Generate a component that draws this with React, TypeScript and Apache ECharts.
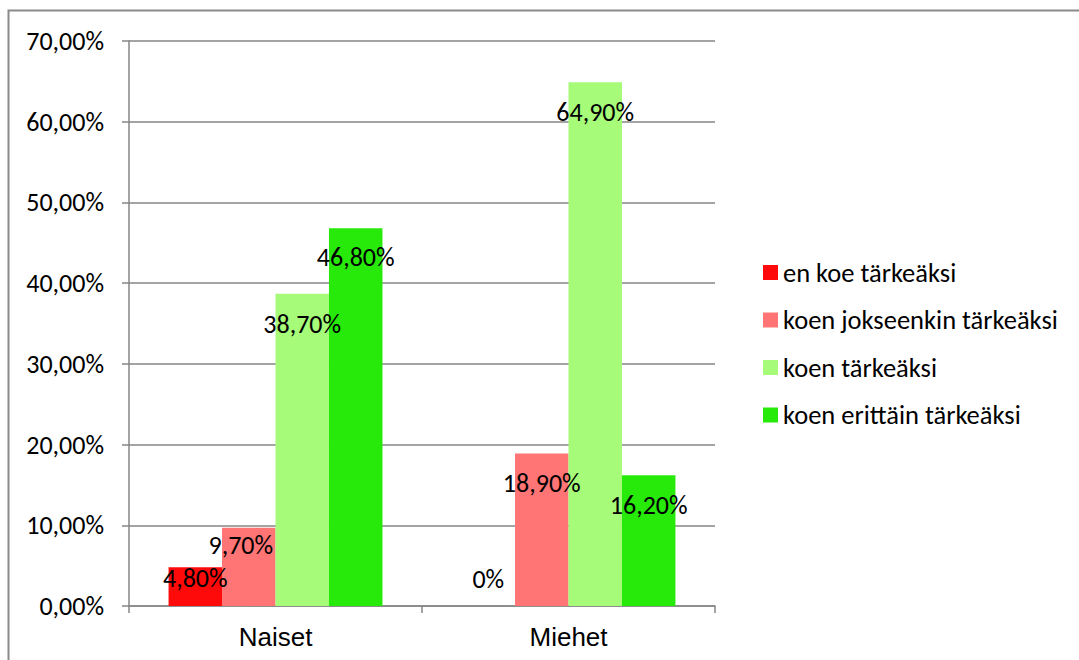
import React, { useEffect, useRef } from "react";
import * as echarts from "echarts";

const categories = ["Naiset", "Miehet"];
const seriesNames = [
  "en koe tärkeäksi",
  "koen jokseenkin tärkeäksi",
  "koen tärkeäksi",
  "koen erittäin tärkeäksi",
];
const enKoe = [4.8, 0];
const jokseenkin = [9.7, 18.9];
const tarkea = [38.7, 64.9];
const erittain = [46.8, 16.2];
const yTicks = [0, 10, 20, 30, 40, 50, 60, 70];

const colors = ["#ff0a0a", "#ff7474", "#a6fb78", "#27e90a"];
// label placement (dx, dy from bar top) per series, per category
const labelPlace = [
  [[0, 11], [0, -27]],
  [[-8, 17], [0, 30]],
  [[0, 30], [0, 30]],
  [[0, 29], [0, 30]],
];

const CAL = "Carlito, Calibri, Lato, sans-serif";
const fmtVal = (v: number) => (v === 0 ? "0%" : v.toFixed(2).replace(".", ",") + "%");

export default function App() {
  const ref = useRef<HTMLDivElement>(null);
  useEffect(() => {
    document.body.style.margin = "0";
    const chart = echarts.init(ref.current!, null, { renderer: "svg" });
    const all = [enKoe, jokseenkin, tarkea, erittain];
    chart.setOption({
      animation: false,
      backgroundColor: "#ffffff",
      graphic: [
        {
          type: "rect",
          shape: { x: 8.5, y: 10.5, width: 1200, height: 800 },
          style: { fill: "none", stroke: "#8a8a8a", lineWidth: 2 },
          silent: true,
        },
      ],
      grid: { left: 129, right: 364, top: 41, bottom: 54 },
      legend: {
        orient: "vertical",
        left: 758,
        top: 254,
        itemWidth: 15,
        itemHeight: 15,
        itemGap: 20.5,
        icon: "rect",
        data: seriesNames,
        textStyle: { fontFamily: CAL, fontSize: 26.5, color: "#000" },
      },
      xAxis: {
        type: "category",
        data: categories,
        axisLine: { lineStyle: { color: "#868686", width: 1.5 } },
        axisTick: { show: true, length: 7, lineStyle: { color: "#868686", width: 1.5 } },
        axisLabel: {
          fontFamily: "Liberation Sans, Arial, sans-serif",
          fontSize: 26,
          color: "#000",
          margin: 18,
        },
      },
      yAxis: {
        type: "value",
        min: 0,
        max: 70,
        interval: 10,
        axisLine: { show: true, lineStyle: { color: "#868686", width: 1.5 } },
        axisTick: { show: true, length: 7, lineStyle: { color: "#868686", width: 1.5 } },
        splitLine: { lineStyle: { color: "#868686", width: 1.5 } },
        axisLabel: {
          fontFamily: CAL,
          fontSize: 26,
          color: "#000",
          margin: 25,
          formatter: (v: number) => (yTicks.includes(v) ? v.toFixed(2).replace(".", ",") + "%" : ""),
        },
      },
      series: seriesNames.map((name, si) => ({
        name,
        type: "bar",
        barGap: "0%",
        barCategoryGap: "27%",
        itemStyle: { color: colors[si] },
        data: all[si].map((v, ci) => ({
          value: v,
          label: {
            show: true,
            position: ["50%", labelPlace[si][ci][1]],
            offset: [labelPlace[si][ci][0], 0],
            align: "center",
            verticalAlign: "middle",
            fontFamily: CAL,
            fontSize: 26,
            color: "#000",
            formatter: () => fmtVal(v),
          },
        })),
      })),
    });
    return () => chart.dispose();
  }, []);
  return <div ref={ref} style={{ width: 1079, height: 660 }} />;
}
